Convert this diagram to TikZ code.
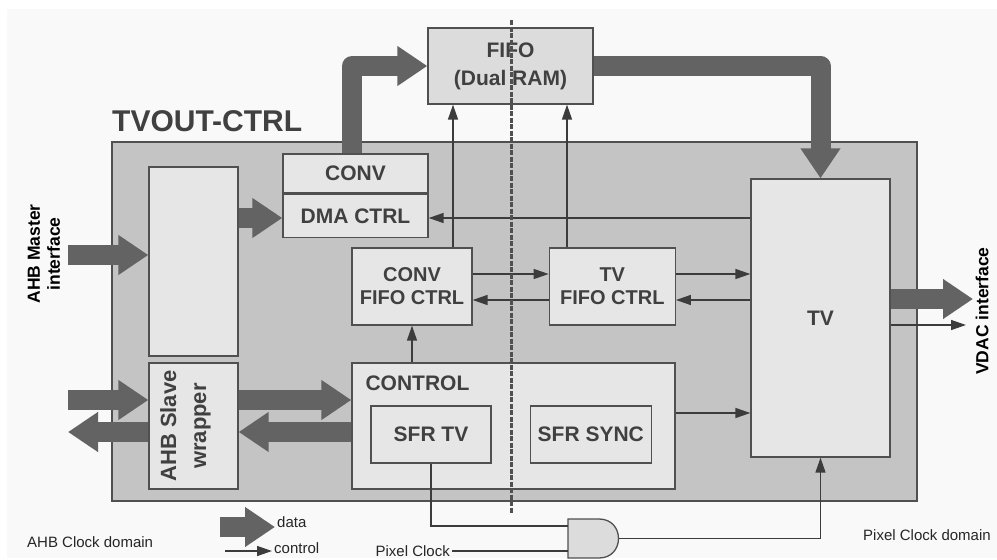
\documentclass[tikz,border=0pt]{standalone}
\usepackage{fontspec}
\setmainfont{Liberation Sans}
\usepackage{xcolor}
\usepackage{tikz}
\usetikzlibrary{positioning,calc}
\usetikzlibrary{arrows.meta}
\definecolor{boxline}{HTML}{505050}
\definecolor{outerfill}{HTML}{C4C4C4}
\definecolor{blkfill}{HTML}{E6E6E6}
\definecolor{fifofill}{HTML}{DCDCDC}
\definecolor{busgray}{HTML}{636363}
\definecolor{wiregray}{HTML}{3C3C3C}
\definecolor{txtgray}{HTML}{404040}
\definecolor{bgpanel}{HTML}{F9F9F9}
\newcommand{\blkfont}{\bfseries\fontsize{21}{24}\selectfont}
\newcommand{\smlfont}{\fontsize{15}{18}\selectfont}
\tikzset{
  blk/.style={draw=boxline, line width=1.3pt, fill=blkfill, text=txtgray, font=\blkfont, align=center, inner sep=0pt},
  databus/.style={draw=busgray, line width=20pt, line join=round, -{Triangle[length=30pt,width=38pt]}},
  ctrl/.style={draw=wiregray, line width=1.4pt, -{Triangle[length=15pt,width=10pt]}},
  wire/.style={draw=wiregray, line width=1.4pt},
  lbl/.style={font=\smlfont, text=black!85, inner sep=2pt},
  divider/.style={draw=boxline, line width=3pt, dash pattern=on 5pt off 1.5pt},
}

\begin{document}
\begin{tikzpicture}[x=1pt, y=-1pt]
  \useasboundingbox (0,0) rectangle (997,560);
  \fill[white] (0,0) rectangle (997,560);
  \fill[bgpanel] (7,9) rectangle (997,558);

  \node[blk, fill=outerfill, minimum width=805, minimum height=359] (tvout) at (514.5,321.5) {};
  \node[anchor=base west, inner sep=0pt, text=txtgray, font=\bfseries\fontsize{30}{34}\selectfont] (ttl) at (112,131) {TVOUT-CTRL};

  \node[blk, fill=fifofill, minimum width=165, minimum height=76, font=\bfseries\fontsize{21}{28}\selectfont] (fifo) at (510.5,66) {FIFO\\(Dual RAM)};
  \node[blk, minimum width=89, minimum height=189] (wrapA) at (193.5,261.5) {};
  \node[blk, minimum width=89, minimum height=126] (slave) at (193.5,426) {};
  \node[rotate=90, align=center, text=txtgray, font=\bfseries\fontsize{22}{30}\selectfont] (slavetxt) at ([xshift=-8]slave.center) {AHB Slave\\wrapper};
  \node[blk, minimum width=145, minimum height=39] (conv) at (355.5,173.5) {CONV};
  \node[blk, minimum width=145, minimum height=43, below=0pt of conv] (dma) {DMA CTRL};
  \node[blk, minimum width=120, minimum height=77, font=\bfseries\fontsize{20}{23}\selectfont] (cfifo) at (412,286.5) {CONV\\FIFO CTRL};
  \node[blk, minimum width=126, minimum height=77, font=\bfseries\fontsize{20}{23}\selectfont, right=76pt of cfifo] (tfifo) {TV\\FIFO CTRL};
  \node[blk, minimum width=139, minimum height=278] (tv) at (820.5,318) {TV};
  \node[blk, minimum width=323, minimum height=126] (control) at (513.5,426) {};
  \node[anchor=west, text=txtgray, font=\blkfont] (ctrltxt) at (362,383) {CONTROL};
  \node[blk, minimum width=120, minimum height=57] (sfrtv) at (431,434.5) {SFR TV};
  \node[blk, minimum width=121, minimum height=57, right=38pt of sfrtv] (sfrsync) {SFR SYNC};

  % and gate
  \draw[draw=boxline, fill=fifofill, line width=1.3pt] (568,519) -- (599,519) .. controls (625,519) and (625,558) .. (599,558) -- (568,558) -- cycle;
  \coordinate (gatein1) at (568,526);
  \coordinate (gatein2) at (568,551);
  \coordinate (gateout) at (618.5,538.5);

  \node[rotate=90, align=center, font=\bfseries\fontsize{17.5}{20}\selectfont] (mstlbl) at (44,254) {AHB Master\\interface};
  \node[rotate=90, font=\bfseries\fontsize{17.5}{20}\selectfont] (vdaclbl) at (982,311) {VDAC interface};
  \node[lbl, anchor=west] (ahbdom) at (25,542) {AHB Clock domain};
  \node[lbl, anchor=west] (pixdom) at (861,535) {Pixel Clock domain};
  \node[lbl, anchor=east] (pclk) at ($(gatein2)+(-116,0)$) {Pixel Clock};
  \node[lbl, anchor=west] (ldata) at (275,522) {data};
  \node[lbl, anchor=west] (lctrl) at (272,548) {control};

  \coordinate (mstin) at (68,255);
  \coordinate (slvin) at (68,400);
  \coordinate (slvout) at (68,432);
  \coordinate (vdacdata) at (973,299);
  \coordinate (vdacctl) at (966,325);
  \coordinate (convup) at (352,0);
  \coordinate (dmalvl) at (0,218);
  \coordinate (upper) at (0,274);
  \coordinate (lower) at (0,300);
  \coordinate (synclvl) at (0,413);
  \coordinate (cfup) at (453,0);
  \coordinate (tfup) at (567,0);
  \coordinate (legd) at (220,527);
  \coordinate (legc) at (225,551);
  \coordinate (divtop) at (511,20);
  \coordinate (divbot) at (511,513);

  \draw[databus] (conv.north -| convup) |- (fifo.west);
  \draw[databus] (fifo.east) -| (tv.north);
  \draw[databus] (wrapA.east |- dmalvl) -- (dma.west |- dmalvl);
  \draw[databus] (mstin) -- (mstin -| wrapA.west);
  \draw[databus] (slvin) -- (slvin -| slave.west);
  \draw[databus] (slvout -| slave.west) -- (slvout);
  \draw[databus] (slvin -| slave.east) -- (slvin -| control.west);
  \draw[databus] (slvout -| control.west) -- (slvout -| slave.east);
  \draw[databus] (vdacdata -| tv.east) -- (vdacdata);
  \draw[databus] (legd) -- (legd -| ldata.west);

  \draw[ctrl] (tv.west |- dmalvl) -- (dma.east |- dmalvl);
  \draw[ctrl] (cfifo.north -| cfup) -- (fifo.south -| cfup);
  \draw[ctrl] (tfifo.north -| tfup) -- (fifo.south -| tfup);
  \draw[ctrl] (control.north -| cfifo.south) -- (cfifo.south);
  \draw[ctrl] (cfifo.east |- upper) -- (tfifo.west |- upper);
  \draw[ctrl] (tfifo.west |- lower) -- (cfifo.east |- lower);
  \draw[ctrl] (tfifo.east |- upper) -- (tv.west |- upper);
  \draw[ctrl] (tv.west |- lower) -- (tfifo.east |- lower);
  \draw[ctrl] (control.east |- synclvl) -- (tv.west |- synclvl);
  \draw[ctrl] (vdacctl -| tv.east) -- (vdacctl);
  \draw[ctrl] (legc) -- (legc -| lctrl.west);

  \draw[wire] (sfrtv.south) |- (gatein1);
  \draw[wire] (pclk.east) -- (gatein2);
  \draw[ctrl] (gateout) -| (tv.south);

  \draw[divider] (divtop) -- (divbot);
\end{tikzpicture}
\end{document}
